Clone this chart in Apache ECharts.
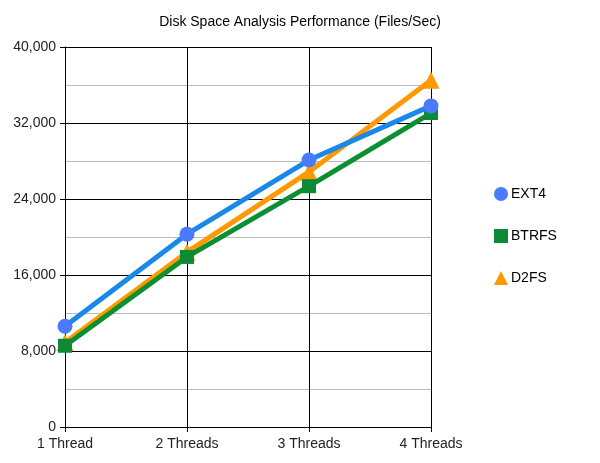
<!DOCTYPE html>
<html>
<head>
<meta charset="utf-8">
<script src="https://cdn.jsdelivr.net/npm/echarts@6/dist/echarts.min.js"></script>
<style>
  html, body { margin: 0; padding: 0; background: #fff; }
  #main { width: 600px; height: 463px; }
</style>
</head>
<body>
<div id="main"></div>
<script>
var categories = ['1 Thread', '2 Threads', '3 Threads', '4 Threads'];
var ext4 = [10600, 20300, 28100, 33800];
var btrfs = [8550, 17900, 25350, 33050];
var d2fs = [8900, 18400, 26850, 36500];

var chart = echarts.init(document.getElementById('main'));
var font = 'Arial, "Liberation Sans", sans-serif';

function lineSeries(name, data, lineColor, markColor, symbol, size, z) {
    return {
        name: name,
        type: 'line',
        data: data,
        symbol: symbol,
        symbolSize: size,
        z: z,
        lineStyle: { color: lineColor, width: 5 },
        itemStyle: { color: markColor },
        emphasis: { disabled: true }
    };
}

var option = {
    animation: false,
    title: {
        text: 'Disk Space Analysis Performance (Files/Sec)',
        left: 'center',
        top: 10,
        textStyle: { fontFamily: font, fontSize: 14, fontWeight: 'normal', color: '#000' }
    },
    legend: {
        orient: 'vertical',
        left: 489,
        top: 182,
        itemGap: 28,
        itemWidth: 14,
        itemHeight: 14,
        textStyle: { fontFamily: font, fontSize: 14, color: '#000', padding: [0, 0, 0, -2] },
        data: [
            { name: 'EXT4', icon: 'circle' },
            { name: 'BTRFS', icon: 'rect' },
            { name: 'D2FS', icon: 'triangle' }
        ]
    },
    grid: { left: 65, right: 169, top: 47, bottom: 36, containLabel: false },
    xAxis: {
        type: 'category',
        data: categories,
        boundaryGap: false,
        axisLine: { lineStyle: { color: '#000', width: 1 } },
        axisTick: { show: true, length: 5, lineStyle: { color: '#000' } },
        axisLabel: { fontFamily: font, fontSize: 14, color: '#222', margin: 10 },
        splitLine: { show: true, lineStyle: { color: '#000', width: 1 } }
    },
    yAxis: {
        type: 'value',
        min: 0,
        max: 40000,
        interval: 8000,
        axisLine: { show: true, lineStyle: { color: '#000' } },
        axisTick: { show: true, length: 5, lineStyle: { color: '#000' } },
        axisLabel: { fontFamily: font, fontSize: 14, color: '#222', margin: 9 },
        splitLine: { show: true, lineStyle: { color: '#000', width: 1 } },
        minorTick: { show: false, splitNumber: 2 },
        minorSplitLine: { show: true, lineStyle: { color: '#bbb', width: 1 } }
    },
    series: [
        lineSeries('EXT4', ext4, '#1a88e8', '#4a7bff', 'circle', 15, 4),
        lineSeries('BTRFS', btrfs, '#0c8f32', '#0c8a35', 'rect', 14, 3),
        lineSeries('D2FS', d2fs, '#ff9900', '#ff9900', 'triangle', 17, 2)
    ]
};

chart.setOption(option);
</script>
</body>
</html>
